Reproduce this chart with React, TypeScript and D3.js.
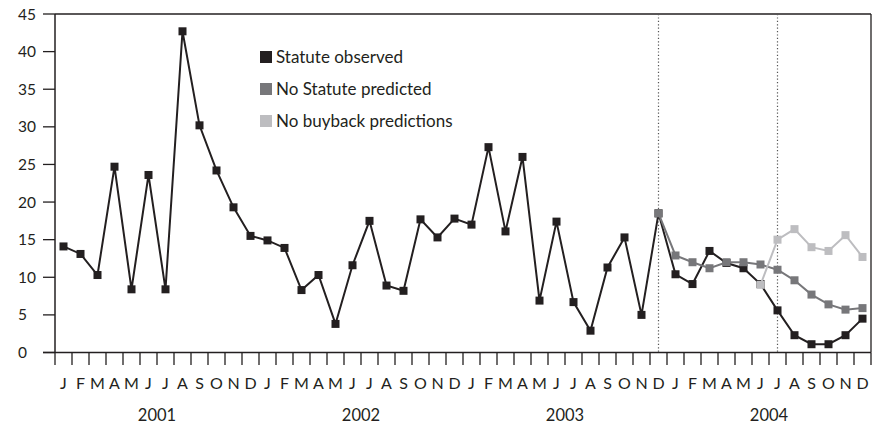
import React from "react";
import * as d3 from "d3";

const years = ["2001", "2002", "2003", "2004"];
const monthLetters = ["J", "F", "M", "A", "M", "J", "J", "A", "S", "O", "N", "D"];
const yTicks = [0, 5, 10, 15, 20, 25, 30, 35, 40, 45];

// Statute observed (monthly, Jan 2001 - Dec 2004)
const observed = [
  14.1, 13.1, 10.3, 24.7, 8.4, 23.6, 8.4, 42.7, 30.2, 24.2, 19.3, 15.5,
  14.9, 13.9, 8.3, 10.3, 3.8, 11.6, 17.5, 8.9, 8.2, 17.7, 15.3, 17.8,
  17.0, 27.3, 16.1, 26.0, 6.9, 17.4, 6.7, 2.9, 11.3, 15.3, 5.0, 18.5,
  10.4, 9.1, 13.5, 11.9, 11.2, 9.1, 5.6, 2.3, 1.1, 1.1, 2.3, 4.5,
];
// No Statute predicted: Dec 2003 - Dec 2004
const noStatuteStart = 35;
const noStatute = [18.5, 12.9, 12.0, 11.2, 12.0, 12.0, 11.7, 11.0, 9.6, 7.7, 6.4, 5.7, 5.9];
// No buyback predictions: Jun 2004 - Dec 2004
const noBuybackStart = 41;
const noBuyback = [9.0, 15.0, 16.4, 14.0, 13.5, 15.6, 12.7];

const dividers = [35, 42];

const seriesNames = ["Statute observed", "No Statute predicted", "No buyback predictions"];
const seriesColors = ["#231f20", "#77777a", "#bdbdc0"];

const W = 872;
const H = 424;
const left = 55;
const right = 871;
const top = 14;
const bottom = 352.5;
const FONT = "Lato, 'Open Sans', sans-serif";

export default function App() {
  const n = years.length * 12;
  const x = d3.scaleBand<number>().domain(d3.range(n)).range([left, right]).padding(0);
  const cx = (i: number) => (x(i) as number) + x.bandwidth() / 2;
  const y = d3.scaleLinear().domain([0, 45]).range([bottom, top]);

  const mk = (vals: number[], start: number) => vals.map((v, k) => ({ i: start + k, v }));
  const series = [mk(observed, 0), mk(noStatute, noStatuteStart), mk(noBuyback, noBuybackStart)];
  const line = d3
    .line<{ i: number; v: number }>()
    .x((d) => cx(d.i))
    .y((d) => y(d.v));

  const ms = 8;

  return (
    <svg width={W} height={H} style={{ position: "absolute", left: 0, top: 0, background: "#fff" }}>
      <rect x={0} y={0} width={W} height={H} fill="#fff" />
      {/* frame */}
      <line x1={left} x2={right} y1={top} y2={top} stroke="#231f20" strokeWidth={1.3} />
      <line x1={right} x2={right} y1={top} y2={bottom} stroke="#231f20" strokeWidth={1.3} />
      <line x1={left} x2={left} y1={top} y2={bottom} stroke="#231f20" strokeWidth={1.5} />
      <line x1={43} x2={right} y1={bottom} y2={bottom} stroke="#231f20" strokeWidth={1.5} />
      {/* y ticks */}
      {yTicks.map((t) => (
        <g key={t}>
          <line x1={43} x2={left} y1={y(t)} y2={y(t)} stroke="#231f20" strokeWidth={1.3} />
          <text x={18} y={y(t) + 5.5} fontSize={15.5} fontFamily={FONT} fill="#231f20">
            {t}
          </text>
        </g>
      ))}
      {/* x ticks */}
      {d3.range(n + 1).map((i) => {
        const xx = i < n ? (x(i) as number) : right;
        return <line key={i} x1={xx} x2={xx} y1={bottom} y2={bottom + 12.5} stroke="#231f20" strokeWidth={1.3} />;
      })}
      {d3.range(n).map((i) => (
        <text key={i} x={cx(i)} y={389} fontSize={16} fontFamily={FONT} fill="#231f20" textAnchor="middle">
          {monthLetters[i % 12]}
        </text>
      ))}
      {years.map((yr, k) => (
        <text
          key={yr}
          x={(cx(k * 12) + cx(k * 12 + 11)) / 2}
          y={421}
          fontSize={16.5}
          fontFamily={FONT}
          fill="#231f20"
          textAnchor="middle"
        >
          {yr}
        </text>
      ))}
      {/* dotted dividers */}
      {dividers.map((i) => (
        <line
          key={i}
          x1={cx(i)}
          x2={cx(i)}
          y1={top}
          y2={bottom}
          stroke="#555"
          strokeWidth={1.2}
          strokeDasharray="1.2,2.2"
        />
      ))}
      {/* series */}
      {series.map((s, k) => (
        <g key={k}>
          <path d={line(s) || ""} fill="none" stroke={seriesColors[k]} strokeWidth={2} />
          {s.map((d) => (
            <rect
              key={d.i}
              x={cx(d.i) - ms / 2}
              y={y(d.v) - ms / 2}
              width={ms}
              height={ms}
              fill={seriesColors[k]}
            />
          ))}
        </g>
      ))}
      {/* legend */}
      {seriesNames.map((name, k) => (
        <g key={name}>
          <rect x={260} y={51 + k * 32} width={12} height={12} fill={seriesColors[k]} />
          <text x={276} y={62.5 + k * 32} fontSize={17} fontFamily={FONT} fill="#231f20">
            {name}
          </text>
        </g>
      ))}
    </svg>
  );
}
